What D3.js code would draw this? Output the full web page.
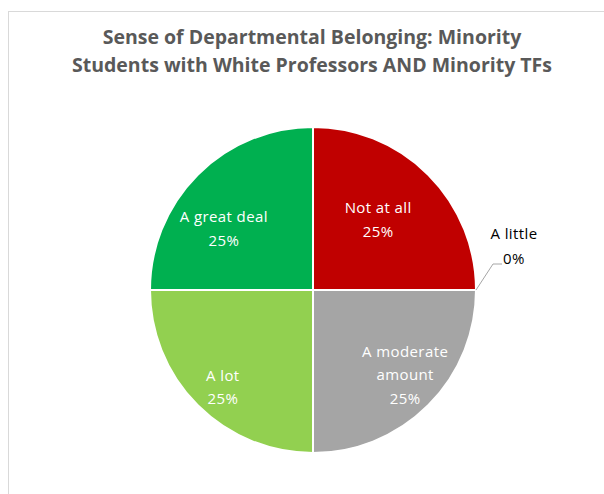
<!DOCTYPE html>
<html>
<head>
<meta charset="utf-8">
<script src="https://cdn.jsdelivr.net/npm/d3@7"></script>
<style>
  html, body { margin: 0; padding: 0; background: #fff; }
  svg { display: block; }
</style>
</head>
<body>
<svg id="chart" width="604" height="494"></svg>
<script>
// Survey responses, in drawing order (clockwise from 12 o'clock)
const categories = ["Not at all", "A little", "A moderate amount", "A lot", "A great deal"];
const values = [25, 0, 25, 25, 25];
const colors = ["#C00000", "#ED7D31", "#A5A5A5", "#92D050", "#00B050"];
const titleLines = [
  "Sense of Departmental Belonging: Minority",
  "Students with White Professors AND Minority TFs"
];

const svg = d3.select("#chart");
const W = 604, H = 494;
const titleFont = "'Open Sans', Lato, sans-serif";
const labelFont = "'Open Sans', Lato, sans-serif";

// chart frame
svg.append("rect")
  .attr("x", 8.5).attr("y", 11.5)
  .attr("width", W + 10).attr("height", H + 10)
  .attr("fill", "#fff").attr("stroke", "#D9D9D9").attr("stroke-width", 1);

// title
svg.append("g").selectAll("text")
  .data(titleLines)
  .join("text")
  .attr("x", 312)
  .attr("y", (d, i) => 44 + i * 28)
  .attr("text-anchor", "middle")
  .attr("font-family", titleFont)
  .attr("font-weight", "bold")
  .attr("font-size", 19.5)
  .attr("fill", "#595959")
  .text(d => d);

const cx = 313, cy = 290, r = 163;
const total = d3.sum(values);

const pie = d3.pie().sort(null).value(d => d.value);
const arcs = pie(categories.map((c, i) => ({ name: c, value: values[i], color: colors[i] })));
const arc = d3.arc().innerRadius(0).outerRadius(r);

const g = svg.append("g").attr("transform", `translate(${cx},${cy})`);

g.selectAll("path")
  .data(arcs.filter(d => d.value > 0))
  .join("path")
  .attr("d", arc)
  .attr("fill", d => d.data.color)
  .attr("stroke", "#fff")
  .attr("stroke-width", 2)
  .attr("stroke-linejoin", "round");

// label placement relative to each slice centroid
const labelArc = d3.arc().innerRadius(r * 0.6).outerRadius(r * 0.6);
const nudge = {
  "Not at all": [-4, -1],
  "A moderate amount": [23, 16],
  "A lot": [-21, 28],
  "A great deal": [-20, 8]
};
const wrap = {
  "Not at all": ["Not at all"],
  "A moderate amount": ["A moderate", "amount"],
  "A lot": ["A lot"],
  "A great deal": ["A great deal"]
};
const fmt = v => Math.round(v / total * 100) + "%";

arcs.filter(d => d.value > 0).forEach(d => {
  const [x0, y0] = labelArc.centroid(d);
  const [nx, ny] = nudge[d.data.name];
  const lines = wrap[d.data.name].concat([fmt(d.value)]);
  const lh = 23.5;
  const top = y0 + ny - (lines.length - 1) * lh / 2;
  g.append("text")
    .attr("text-anchor", "middle")
    .attr("font-family", labelFont)
    .attr("font-size", 15)
    .attr("letter-spacing", 0.4)
    .attr("fill", "#fff")
    .selectAll("tspan")
    .data(lines)
    .join("tspan")
    .attr("x", x0 + nx)
    .attr("y", (t, i) => top + i * lh)
    .attr("dy", "0.35em")
    .text(t => t);
});

// zero-value slice: external label with leader line
arcs.filter(d => d.value === 0).forEach(d => {
  const a = d.startAngle - Math.PI / 2;
  const px = Math.cos(a) * r, py = Math.sin(a) * r;
  const bx = px + 17, by = py - 26;
  g.append("polyline")
    .attr("points", [[px, py], [bx, by], [bx + 9, by]].map(p => p.join(",")).join(" "))
    .attr("fill", "none")
    .attr("stroke", "#A6A6A6")
    .attr("stroke-width", 1);
  g.append("text")
    .attr("text-anchor", "middle")
    .attr("font-family", labelFont)
    .attr("font-size", 15)
    .attr("letter-spacing", 0.4)
    .attr("fill", "#000")
    .selectAll("tspan")
    .data([d.data.name, fmt(d.value)])
    .join("tspan")
    .attr("x", bx + 21)
    .attr("y", (t, i) => by - 30 + i * 25)
    .attr("dy", "0.35em")
    .text(t => t);
});
</script>
</body>
</html>
